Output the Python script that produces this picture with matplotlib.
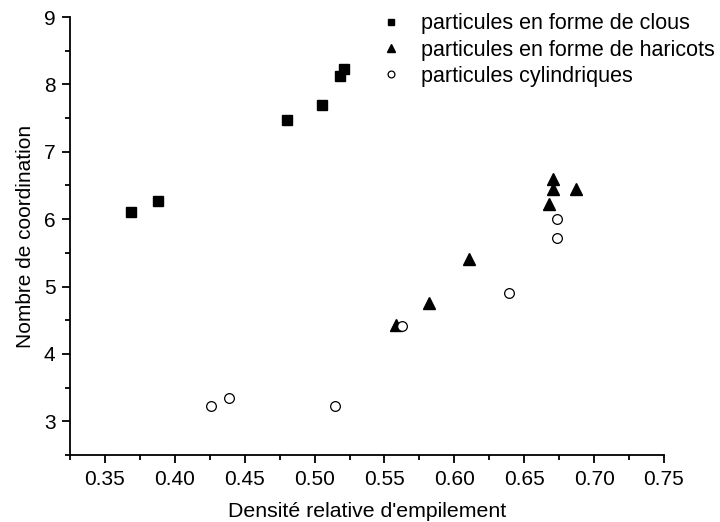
import matplotlib
matplotlib.use("Agg")
import matplotlib.pyplot as plt
from matplotlib.ticker import MultipleLocator, FormatStrFormatter

plt.rcParams['font.family'] = ['Liberation Sans', 'DejaVu Sans']

# Nail-shaped particles
clous_x = [0.369, 0.388, 0.480, 0.5055, 0.518, 0.521]
clous_y = [6.11, 6.27, 7.47, 7.69, 8.12, 8.23]

# Bean-shaped particles
haricots_x = [0.5583, 0.5817, 0.6107, 0.6674, 0.6707, 0.6707, 0.6869]
haricots_y = [4.43, 4.76, 5.41, 6.23, 6.60, 6.445, 6.445]

# Cylindrical particles
cyl_x = [0.4257, 0.4388, 0.5148, 0.5626, 0.6388, 0.6738, 0.6738]
cyl_y = [3.22, 3.34, 3.22, 4.42, 4.91, 6.00, 5.72]

labels = ["particules en forme de clous",
          "particules en forme de haricots",
          "particules cylindriques"]

fig = plt.figure(figsize=(7.2, 5.22), dpi=100)
ax = fig.add_axes([70/720, 1 - 455/522, (664 - 70)/720, (455 - 17)/522])

ax.plot(clous_x, clous_y, ls='none', marker='s', ms=7, color='black', label=labels[0])
ax.plot(haricots_x, haricots_y, ls='none', marker='^', ms=8.5, color='black', label=labels[1])
ax.plot(cyl_x, cyl_y, ls='none', marker='o', ms=7, mfc='white', mec='black', mew=0.9, label=labels[2])

ax.set_xlim(0.325, 0.75)
ax.set_ylim(2.5, 9)
ax.xaxis.set_major_locator(MultipleLocator(0.05))
ax.xaxis.set_minor_locator(MultipleLocator(0.025))
ax.yaxis.set_major_locator(MultipleLocator(1))
ax.yaxis.set_minor_locator(MultipleLocator(0.5))
ax.xaxis.set_major_formatter(FormatStrFormatter('%.2f'))

for side in ('top', 'right'):
    ax.spines[side].set_visible(False)
for side in ('left', 'bottom'):
    ax.spines[side].set_linewidth(1.3)

ax.tick_params(which='major', direction='out', length=5.5, width=1.3, labelsize=15, pad=5)
ax.tick_params(which='minor', direction='out', length=3.5, width=1.3)

ax.set_xlabel("Densité relative d'empilement", fontsize=15.3, labelpad=10)
ax.set_ylabel("Nombre de coordination", fontsize=15, labelpad=6)

leg = ax.legend(loc='upper left', bbox_to_anchor=((380 - 70)/594, 1.008),
                frameon=False, fontsize=15.5, markerscale=0.7,
                handlelength=1.0, handletextpad=0.9, labelspacing=0.24,
                borderpad=0.0, borderaxespad=0.0)

fig.savefig("out.png", dpi=100)
